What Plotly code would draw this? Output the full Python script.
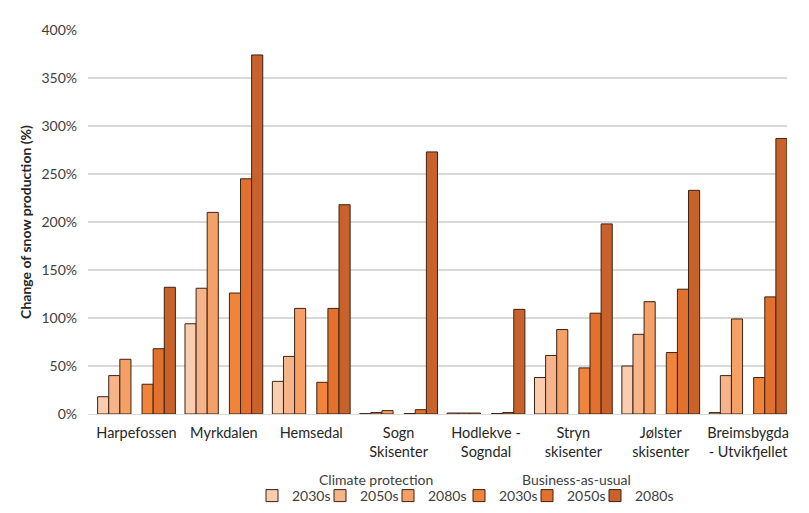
import plotly.graph_objects as go

categories = ["Harpefossen", "Myrkdalen", "Hemsedal", "Sogn<br>Skisenter", "Hodlekve -<br>Sogndal",
              "Stryn<br>skisenter", "Jølster<br>skisenter", "Breimsbygda<br>- Utvikfjellet"]

cp_2030 = [18, 94, 34, 0.4, 1, 38, 50, 1.5]
cp_2050 = [40, 131, 60, 1.5, 1, 61, 83, 40]
cp_2080 = [57, 210, 110, 3.5, 1, 88, 117, 99]
bau_2030 = [31, 126, 33, 0.5, 0.5, 48, 64, 38]
bau_2050 = [68, 245, 110, 4.5, 1.5, 105, 130, 122]
bau_2080 = [132, 374, 218, 273, 109, 198, 233, 287]

series_names = ["2030s", "2050s", "2080s"]
scenario_titles = ["Climate protection", "Business-as-usual"]
cp_colors = ["#F9CDB0", "#F6B48A", "#F4A066"]
bau_colors = ["#F0843A", "#E2712E", "#C8622A"]
outline = "#3B2314"

W, H = 809, 513
L, R, T, B = 88, 22, 30, 99
PW, PH = W - L - R, H - T - B


def px_x(px):
    return (px - L) / PW


def px_y(py):
    return (H - B - py) / PH


fig = go.Figure()
slot = 0
for name, vals, col in zip(series_names, [cp_2030, cp_2050, cp_2080], cp_colors):
    fig.add_trace(go.Bar(x=categories, y=[v / 100 for v in vals], name=name, legend="legend",
                         offsetgroup=str(slot),
                         marker=dict(color=col, line=dict(color=outline, width=1))))
    slot += 1
# empty spacer slot between the two scenario groups
fig.add_trace(go.Bar(x=categories, y=[0] * len(categories), showlegend=False, hoverinfo="skip",
                     offsetgroup=str(slot),
                     marker=dict(color="rgba(0,0,0,0)", line=dict(width=0))))
slot += 1
for name, vals, col in zip(series_names, [bau_2030, bau_2050, bau_2080], bau_colors):
    fig.add_trace(go.Bar(x=categories, y=[v / 100 for v in vals], name=name, legend="legend2",
                         offsetgroup=str(slot),
                         marker=dict(color=col, line=dict(color=outline, width=1))))
    slot += 1
# invisible trailing legend entries (keep the last real entry's text from being clipped)
for lg in ["legend", "legend2"]:
    fig.add_trace(go.Bar(x=[categories[0]], y=[None], name=" ", legend=lg, hoverinfo="skip",
                         offsetgroup="3", showlegend=True,
                         marker=dict(color="rgba(0,0,0,0)", line=dict(width=0))))

font_family = "Lato, 'Open Sans', sans-serif"
txt = "#404040"
leg_common = dict(orientation="h", yanchor="middle", y=px_y(496), xanchor="left",
                  font=dict(size=14, color=txt), itemwidth=30, entrywidth=23,
                  entrywidthmode="pixels", tracegroupgap=0, bgcolor="rgba(0,0,0,0)",
                  itemclick=False, itemdoubleclick=False)
fig.update_layout(
    width=W, height=H,
    margin=dict(l=L, r=R, t=T, b=B, autoexpand=False),
    paper_bgcolor="white", plot_bgcolor="white",
    barmode="group", bargap=0.11, bargroupgap=0,
    font=dict(family=font_family, size=13, color=txt),
    legend=dict(**leg_common, x=px_x(252)),
    legend2=dict(**leg_common, x=px_x(459)),
    yaxis=dict(range=[0, 4.0], dtick=0.5, tickformat=".0%", showgrid=True, gridcolor="#D9D9D9",
               gridwidth=1.5, zeroline=False, ticks="", tickfont=dict(size=14, color=txt),
               automargin=True, ticklabelstandoff=10,
               title=dict(text="<b>Change of snow production (%)</b>", font=dict(size=14, color="#262626"),
                          standoff=6)),
    xaxis=dict(showline=True, linecolor="#D9D9D9", linewidth=1, ticks="", automargin=False,
               range=[-0.555, 7.445], ticklabelstandoff=6,
               tickfont=dict(size=14.5, color="#262626"), tickangle=0),
    annotations=[
        dict(text=scenario_titles[0], x=px_x(376), y=px_y(479), xref="paper", yref="paper",
             xanchor="center", yanchor="middle", showarrow=False, font=dict(size=14, color=txt)),
        dict(text=scenario_titles[1], x=px_x(576), y=px_y(479), xref="paper", yref="paper",
             xanchor="center", yanchor="middle", showarrow=False, font=dict(size=14, color=txt)),
    ],
)

fig.write_html("out.html", config={"displayModeBar": False},
               post_script="document.body.style.margin='0';")
